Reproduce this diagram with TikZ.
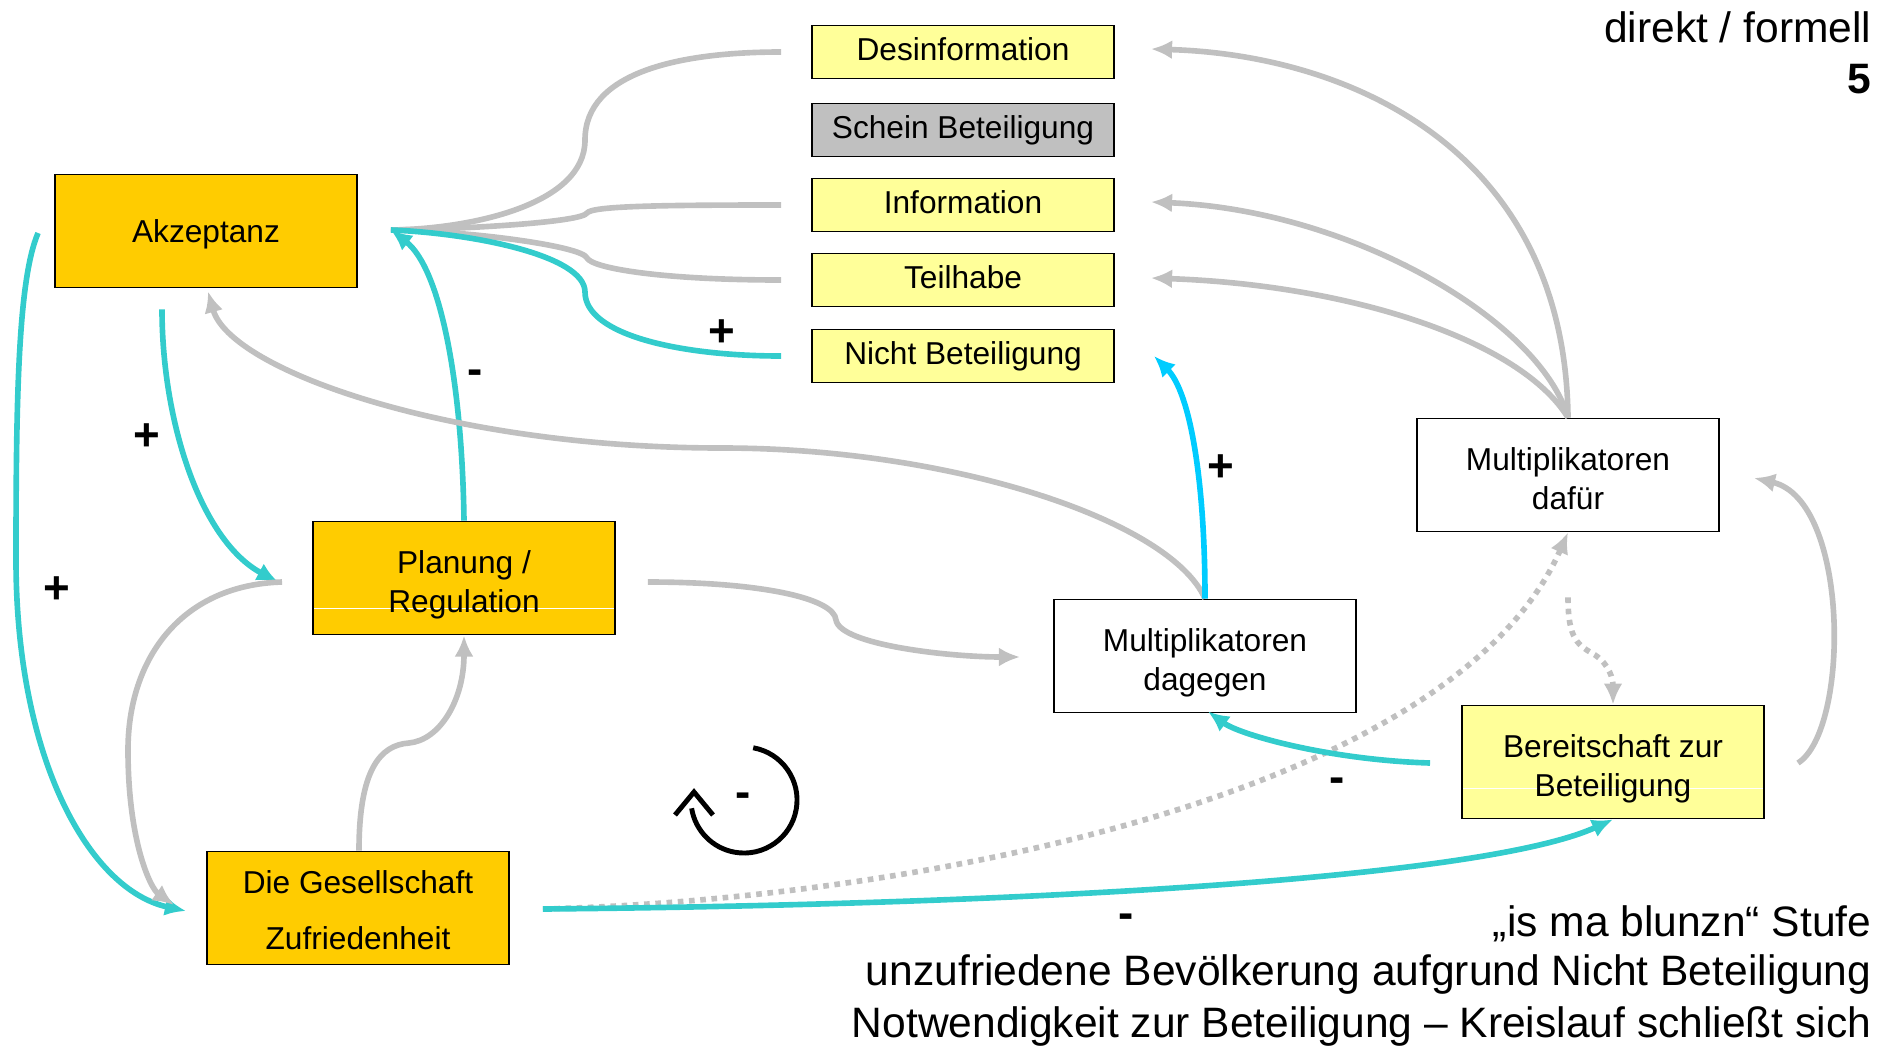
\documentclass[tikz,border=0pt]{standalone}
\usepackage{fontspec}
\setmainfont{Liberation Sans}
\usetikzlibrary{arrows.meta, calc, positioning}
\definecolor{boxgold}{HTML}{FFCC00}
\definecolor{boxyellow}{HTML}{FFFF99}
\definecolor{boxgrey}{HTML}{C0C0C0}
\definecolor{linkgrey}{HTML}{C0C0C0}
\definecolor{linkteal}{HTML}{33CCCC}
\definecolor{linkcyan}{HTML}{00CCFF}
\newcommand{\zeileoben}[1][10.9pt]{\rule{0pt}{#1}}
\newcommand{\zeileunten}{\rule[-2.5pt]{0pt}{2.5pt}}

\begin{document}
\begin{tikzpicture}[x=0.01cm, y=-0.01cm,
  >={Latex[length=6pt,width=5.4pt]},
  box/.style={draw=black, line width=0.5pt, minimum width=3.02cm, minimum height=1.13cm,
    inner sep=0pt, align=center, font=\fontsize{9}{10.96}\selectfont},
  level/.style={box, minimum height=0.53cm, fill=boxyellow, text height=7.2pt, text depth=2.3pt},
  trennlinie/.style={path picture={\draw[white, line width=0.4pt]
    ([yshift=#1]path picture bounding box.south west) -- ([yshift=#1]path picture bounding box.south east);}},
  grayline/.style={draw=linkgrey, line width=1.6pt},
  tealline/.style={draw=linkteal, line width=1.6pt},
  dotline/.style={grayline, dash pattern=on 1.6pt off 1.6pt},
  sign/.style={inner sep=0pt, font=\fontsize{13}{13}\selectfont\bfseries},
  note/.style={anchor=base east, inner sep=0pt, font=\fontsize{12.1}{14}\selectfont}]
\useasboundingbox (0,0) rectangle (1888,1048);

% Kaestchen
\node[box, fill=boxgold, text height=8.8pt, text depth=2.5pt] (akz) at (206,231) {Akzeptanz};
\node[level] (desinf) at (963,52) {Desinformation};
\node[level, fill=boxgrey] (schein) at (963,130) {Schein Beteiligung};
\node[level] (info) at (963,205) {Information};
\node[level] (teil) at (963,280) {Teilhabe};
\node[level] (nicht) at (963,356) {Nicht Beteiligung};
\node[box] (mdafuer) at (1568,475) {\zeileoben Multiplikatoren\\dafür\zeileunten};
\node[box, fill=boxgold, trennlinie=0.26cm] (plan) at (464,578) {\zeileoben Planung /\\Regulation\zeileunten};
\node[box] (mdagegen) at (1205,656) {\zeileoben Multiplikatoren\\dagegen\zeileunten};
\node[box, fill=boxyellow, trennlinie=0.30cm] (bereit) at (1613,762) {\zeileoben Bereitschaft zur\\Beteiligung\zeileunten};
\node[box, fill=boxgold, font=\fontsize{9}{16.1}\selectfont] (ges) at (358,908)
  {\zeileoben[10.2pt]Die Gesellschaft\\Zufriedenheit\zeileunten};

\coordinate (akzin) at ($(akz.east)+(33,-1)$);

% Stufen -> Akzeptanz
\draw[grayline] ($(desinf.west)+(-30,0)$) .. controls (680,52) and (585,72) .. (585,140)
  .. controls (585,205) and (470,229) .. (akzin);
\draw[grayline] ($(info.west)+(-30,0)$) .. controls (660,205) and (592,206) .. (587,213)
  .. controls (582,222) and (470,229) .. (akzin);
\draw[grayline] ($(teil.west)+(-30,0)$) .. controls (660,280) and (592,268) .. (587,258)
  .. controls (582,246) and (470,231) .. (akzin);
\draw[tealline] ($(nicht.west)+(-30,0)$) .. controls (680,356) and (585,335) .. (585,292)
  .. controls (585,255) and (470,233) .. (akzin);

% linke Seite
\draw[tealline,->] (plan.north) .. controls (462,380) and (440,268) .. (akzin);
\draw[tealline,->] ($(akz.south)+(-44,21)$) .. controls (162,420) and (200,540) .. ($(plan.west)+(-34,4)$);
\draw[tealline,->] ($(akz.west)+(-16,2)$) .. controls (18,280) and (16,400) .. (16,560)
  .. controls (16,760) and (90,890) .. ($(ges.west)+(-20,3)$);
\draw[grayline,->] ($(plan.west)+(-30,4)$) .. controls (180,585) and (128,660) .. (128,750)
  .. controls (128,840) and (150,888) .. ($(ges.west)+(-32,-3)$);
\draw[grayline,->] ($(ges.north)+(1,0)$) .. controls (359,770) and (380,745) .. (409,743)
  .. controls (440,740) and (464,700) .. (plan.south);
\draw[grayline,->] ($(plan.east)+(32,4)$) .. controls (760,582) and (834,598) .. (836,620)
  .. controls (840,645) and (950,657) .. ($(mdagegen.west)+(-33,1)$);
\draw[grayline,->] (mdagegen.north) .. controls (1170,520) and (950,448) .. (722,448)
  .. controls (450,448) and (230,370) .. ($(akz.south)+(2,3)$);

% Multiplikatoren
\draw[draw=linkcyan, line width=1.6pt,->] (mdagegen.north) .. controls (1205,480) and (1190,392) .. ($(nicht.east)+(39,0)$);
\draw[grayline,->] (mdafuer.north) .. controls (1565,150) and (1350,55) .. ($(desinf.east)+(36,-3)$);
\draw[grayline,->] (mdafuer.north) .. controls (1540,320) and (1350,210) .. ($(info.east)+(36,-3)$);
\draw[grayline,->] (mdafuer.north) .. controls (1520,340) and (1350,285) .. ($(teil.east)+(36,-2)$);
\draw[dotline,->] ($(ges.east)+(33,1)$) .. controls (900,900) and (1450,800) .. (mdafuer.south);
\draw[dotline,->] ($(mdafuer.south)+(0,65)$) .. controls (1568,640) and (1578,645) .. (1595,655)
  .. controls (1610,665) and (1613,680) .. (bereit.north);
\draw[tealline,->] ($(bereit.west)+(-31,1)$) .. controls (1330,760) and (1240,735) .. ($(mdagegen.south)+(3,-2)$);
\draw[tealline,->] ($(ges.east)+(33,1)$) .. controls (1000,905) and (1480,880) .. (bereit.south);
\draw[grayline,->] ($(bereit.east)+(33,1)$) .. controls (1850,730) and (1850,500) .. ($(mdafuer.east)+(34,3)$);

% Vorzeichen
\node[sign] (s1) at (722,333) {+};
\node[sign] (s2) at (475,377) {-};
\node[sign] (s3) at (147,437) {+};
\node[sign] (s4) at (57,590) {+};
\node[sign] (s5) at (1221,468) {+};
\node[sign] (s6) at (1337,785) {-};
\node[sign] (s7) at (1126,921) {-};

% Kreislauf
\draw[line width=1.4pt] (744,800) ++(80:0.53cm) arc[start angle=80, end angle=-171, radius=0.53cm];
\draw[line width=1.4pt] (675,815) -- (694,792) -- (713,815);
\node[sign] (s8) at (743,800) {-};

% Texte
\node[note] (modus) at (1872,42) {direkt / formell};
\node[note, font=\fontsize{12.1}{14}\selectfont\bfseries] (nummer) at (1872,93) {5};
\node[note] (zeile1) at (1872,936) {„is ma blunzn“ Stufe};
\node[note] (zeile2) at (1872,985) {unzufriedene Bevölkerung aufgrund Nicht Beteiligung};
\node[note] (zeile3) at (1872,1037) {Notwendigkeit zur Beteiligung – Kreislauf schließt sich};
\end{tikzpicture}
\end{document}
